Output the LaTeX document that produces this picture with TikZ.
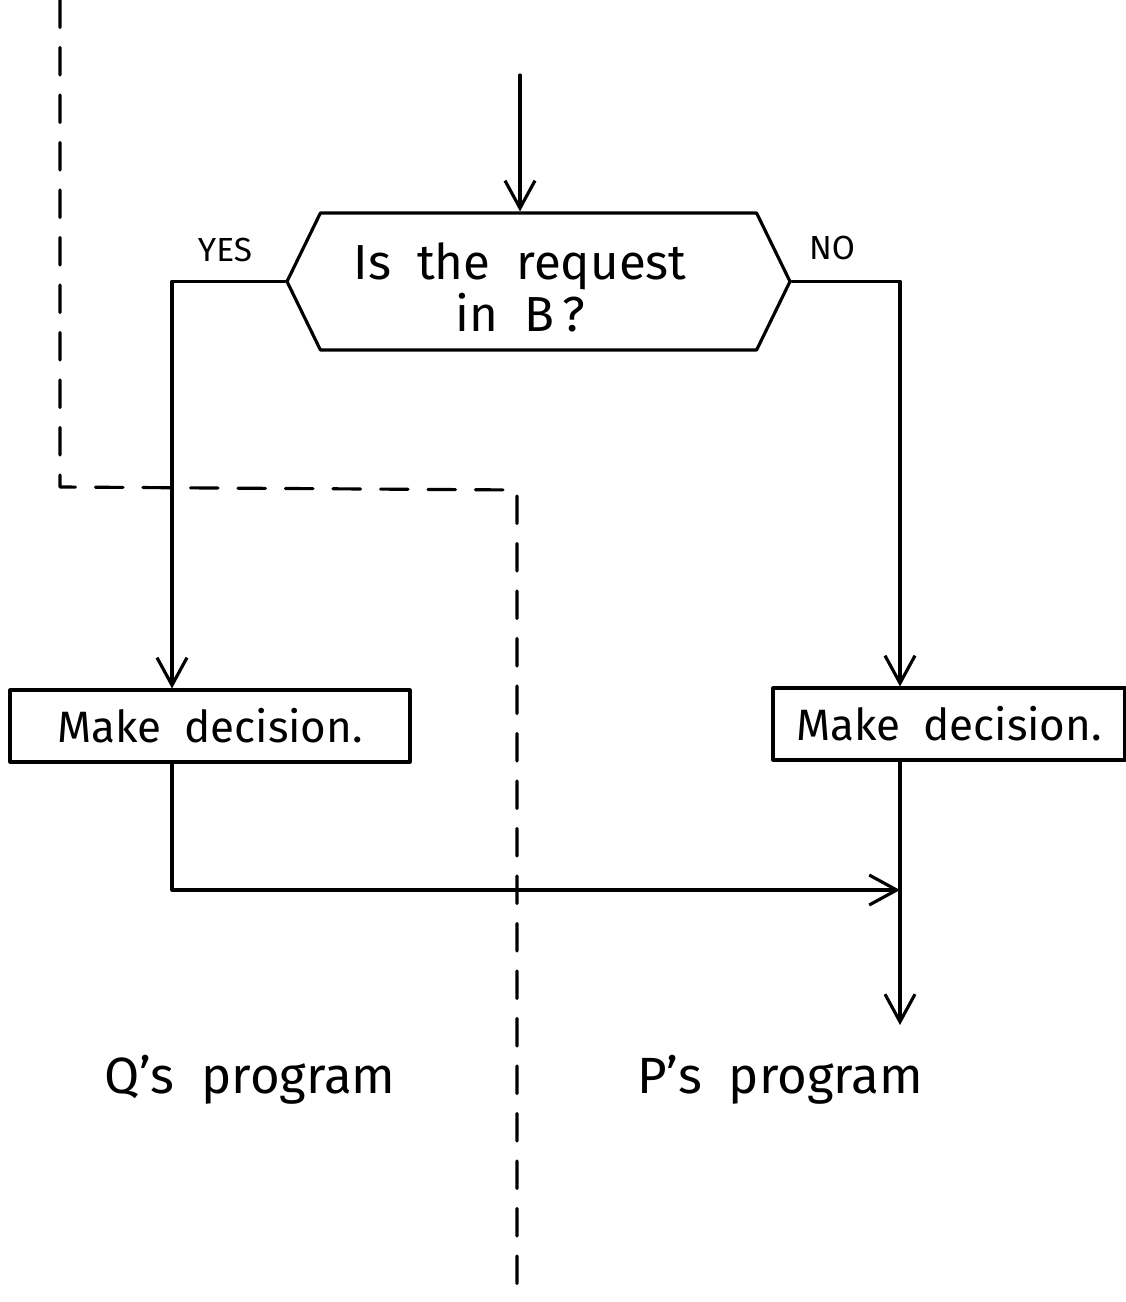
\documentclass[tikz,border=0pt]{standalone}
\usepackage{fontspec}
\setmainfont{Fira Sans}
\usetikzlibrary{arrows.meta,positioning,shapes.symbols}
\tikzset{
chart/.style={line width=1.8pt,line cap=round,line join=round},
flow/.style={-{Straight Barb[length=5.5mm,width=6mm,line width=1.8pt]}},
border/.style={dash pattern=on 5.5mm off 4mm},
test/.style={signal,signal to=west and east,signal pointer angle=128,draw,
    minimum width=10.06cm,minimum height=2.74cm,inner sep=0pt},
step box/.style={rectangle,draw,minimum height=1.44cm,inner sep=0pt,
    font=\fontsize{25}{27}\selectfont},
answer/.style={font=\fontsize{19}{21}\selectfont},
side/.style={font=\fontsize{29}{31}\selectfont},
}

\begin{document}
\begin{tikzpicture}[chart]
    \useasboundingbox (0,0) rectangle (22.52,-26.04);

    % the question and its two answers
    \node[test] (ask) at (10.77,-5.63) {};
    \node[align=center,font=\fontsize{28}{30}\selectfont] (asktext) at (10.4,-5.75)
        {Is\ \ the\ \ request\\in\ \ B\,?};
    \node[answer] (yes) at (4.5,-5.0) {YES};
    \node[answer] (no) at (16.64,-4.96) {NO};

    \node[step box,minimum width=8cm] (left) at (4.2,-14.52) {Make\ \ decision.};
    \node[step box,minimum width=7.04cm] (right) at (18.98,-14.48) {Make\ \ decision.};

    \node[side] (qprog) at (5.0,-21.6) {Q's\ \ program};
    \node[side] (pprog) at (15.6,-21.6) {P's\ \ program};

    \coordinate (in) at (10.4,-1.5);
    \coordinate (yescol) at (3.44,0);
    \coordinate (nocol) at (18.0,0);
    \coordinate (join) at (18.0,-17.8);
    \coordinate (out) at (18.0,-20.5);

    % the boundary between the two programs
    \coordinate (b1) at (1.2,0);
    \coordinate (b2) at (1.2,-9.74);
    \coordinate (b3) at (10.34,-9.8);
    \coordinate (b4) at (10.34,-26.04);
    \draw[border] (b1) -- (b2) -- (b3) -- (b4);

    \path[flow]
        (in) edge (in |- ask.north)
    ;
    \draw[flow] (ask.west) -| (yescol |- left.north);
    \draw[flow] (ask.east) -| (nocol |- right.north);
    \draw[flow] (yescol |- left.south) |- (join);
    \draw[flow] (nocol |- right.south) -- (out);
\end{tikzpicture}
\end{document}
